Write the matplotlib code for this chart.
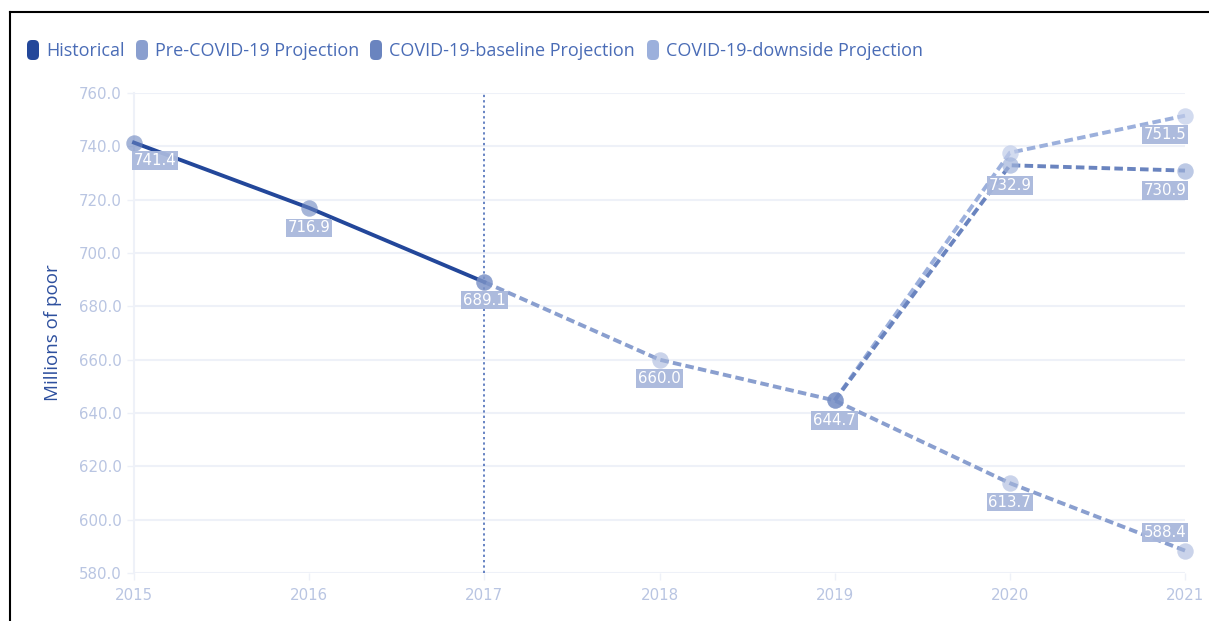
import matplotlib
matplotlib.use("Agg")
import matplotlib.pyplot as plt
from matplotlib.patches import FancyBboxPatch
from matplotlib.lines import Line2D

# ---- data ----
hist_years = [2015, 2016, 2017]
hist_vals = [741.4, 716.9, 689.1]
pre_years = [2017, 2018, 2019, 2020, 2021]
pre_vals = [689.1, 660.0, 644.7, 613.7, 588.4]
base_years = [2019, 2020, 2021]
base_vals = [644.7, 732.9, 730.9]
down_years = [2019, 2020, 2021]
down_vals = [644.7, 737.6, 751.5]
series_names = ["Historical", "Pre-COVID-19 Projection",
                "COVID-19-baseline Projection", "COVID-19-downside Projection"]
yticks = [580, 600, 620, 640, 660, 680, 700, 720, 740, 760]
xticks = [2015, 2016, 2017, 2018, 2019, 2020, 2021]

c_hist = "#23479a"
c_pre = "#8a9fcf"
c_base = "#6a84bf"
c_down = "#9cb0dc"
c_label_box = "#a9b8dc"
c_tick = "#b9c5e2"
c_grid = "#eef1f8"

W, H = 1209, 621
fig = plt.figure(figsize=(W / 100, H / 100), dpi=100)
ax = fig.add_axes([134 / W, 1 - 573 / H, (1185 - 134) / W, (573 - 93) / H])

ax.set_xlim(2015, 2021)
ax.set_ylim(580, 760)
ax.set_yticks(yticks)
ax.set_yticklabels([f"{v:.1f}" for v in yticks])
ax.set_xticks(xticks)
ax.set_xticklabels([str(v) for v in xticks])
ax.tick_params(axis="both", colors=c_grid, labelcolor=c_tick, labelsize=10.8,
               length=5, width=1)
ax.tick_params(axis="y", pad=4)
ax.tick_params(axis="x", pad=6)
for s in ["top", "right", "bottom"]:
    ax.spines[s].set_visible(False)
ax.spines["left"].set_color(c_grid)
ax.spines["left"].set_linewidth(1.5)
ax.grid(axis="y", color=c_grid, linewidth=1.5)
ax.grid(axis="x", visible=False)
ax.set_axisbelow(True)

# vertical dotted line at 2017
ax.axvline(2017, color="#3d62b3", linewidth=1.1, linestyle=(0, (1.5, 2)), zorder=1)

dash = (0, (2.2, 1.1))
lw = 2.8
ax.plot(pre_years, pre_vals, color=c_pre, lw=lw, ls=dash, zorder=3,
        clip_on=False)
ax.plot(down_years, down_vals, color=c_down, lw=lw, ls=dash, zorder=4,
        clip_on=False)
ax.plot(base_years, base_vals, color=c_base, lw=lw, ls=dash, zorder=5,
        clip_on=False)
ax.plot(hist_years, hist_vals, color=c_hist, lw=lw, zorder=6, clip_on=False)

# markers (semi transparent)
ax.scatter(pre_years, pre_vals, s=140, color="#a7b7dc", alpha=0.6, zorder=7,
           linewidths=0, clip_on=False)
ax.scatter(down_years[1:], down_vals[1:], s=140, color="#c0cce9", alpha=0.7,
           zorder=7, linewidths=0, clip_on=False)
ax.scatter(base_years[1:], base_vals[1:], s=140, color="#a0b2da", alpha=0.7,
           zorder=7, linewidths=0, clip_on=False)
ax.scatter(hist_years, hist_vals, s=140, color="#6a84bf", alpha=0.6, zorder=7,
           linewidths=0, clip_on=False)
ax.scatter([2019], [644.7], s=140, color="#6a84bf", alpha=0.7, zorder=7,
           linewidths=0, clip_on=False)

# data labels: (x, y, dx px, dy px)
labels = [
    (2015, 741.4, 21, -18),
    (2016, 716.9, 0, -20),
    (2017, 689.1, 0, -18),
    (2018, 660.0, 0, -19),
    (2019, 644.7, 0, -20),
    (2020, 613.7, 0, -19),
    (2021, 588.4, -20, 18),
    (2020, 732.9, 0, -20),
    (2021, 730.9, -20, -20),
    (2021, 751.5, -20, -19),
]
for x, y, dx, dy in labels:
    ax.annotate(f"{y:.1f}", (x, y), xytext=(dx, dy), textcoords="offset pixels",
                ha="center", va="center", color="white", fontsize=10.8,
                zorder=9, annotation_clip=False,
                bbox=dict(boxstyle="square,pad=0.12", fc=c_label_box,
                          ec="none", alpha=0.95))

ax.set_ylabel("Millions of poor", color="#2d4f9e", fontsize=13.5,
              family="Open Sans")
ax.yaxis.set_label_coords(-(134 - 62) / (1185 - 134), 0.5)

# legend
leg_cols = [c_hist, c_pre, c_base, c_down]
leg_x = [27, 136, 370, 647]
for name, col, lx in zip(series_names, leg_cols, leg_x):
    p = FancyBboxPatch((lx / W, 1 - 60 / H), 12 / W, 20 / H,
                       boxstyle="round,pad=0,rounding_size=0.004",
                       transform=fig.transFigure, fc=col, ec="none",
                       mutation_aspect=W / H)
    fig.patches.append(p)
    fig.text((lx + 19) / W, 1 - 51 / H, name, color="#4a6cb6", fontsize=13,
             family="Open Sans", va="center", ha="left")

# frame lines (top and left)
fig.add_artist(Line2D([10 / W, 1], [1 - 12 / H, 1 - 12 / H], color="black",
                      lw=1.5, transform=fig.transFigure))
fig.add_artist(Line2D([10 / W, 10 / W], [0, 1 - 12 / H], color="black",
                      lw=1.5, transform=fig.transFigure))

fig.savefig("out.png", dpi=100)
